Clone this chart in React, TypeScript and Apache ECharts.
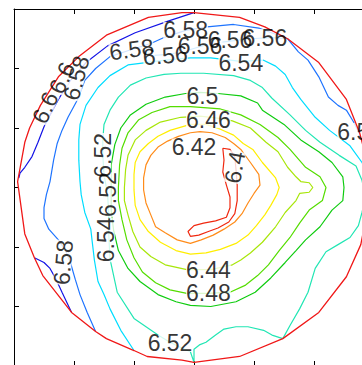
import { useEffect, useRef } from "react";
import * as echarts from "echarts";

// Wafer map contours, coordinates in mm (wafer centre = 0,0)
const waferEdge: number[][] = [[0,147],[38,143],[59,135],[78,125],[104,105],[127,74],[138,46],[144,23],[145,-2],[143,-27],[139,-48],[127,-75],[104,-105],[74,-127],[38,-142],[0,-147],[-10,-145],[-39,-142],[-50,-137],[-73,-127],[-82,-121],[-102,-105],[-126,-74],[-133,-59],[-141,-39],[-147,5],[-141,38],[-137,50],[-128,69],[-113,93],[-96,110],[-73,128],[-38,143],[-10,147],[0,147]];

const level640: number[][] = [[24,33],[25,23],[24,13],[27,2],[30,-8],[30,-17],[27,-25],[18,-28],[8,-30],[0,-32],[-5,-37],[-3,-41],[4,-40],[12,-37],[20,-34],[29,-29],[34,-22],[36,-11],[36,2],[35,15],[34,26],[30,32],[24,33]];

const level642: number[][] = [[-3,46],[5,47],[15,46],[26,42],[33,37],[39,32],[47,21],[54,11],[55,2],[50,-5],[45,-13],[40,-22],[34,-29],[25,-35],[16,-40],[6,-44],[-3,-47],[-14,-44],[-24,-38],[-32,-33],[-36,-23],[-40,-13],[-42,-2],[-42,8],[-40,19],[-36,27],[-30,34],[-22,39],[-13,43],[-3,46]];

const level644: number[][] = [[-3,53],[10,53],[22,49],[33,44],[41,37],[49,32],[57,21],[68,8],[71,0],[69,-6],[64,-15],[59,-23],[52,-32],[45,-40],[35,-47],[22,-52],[10,-55],[-3,-56],[-15,-53],[-28,-46],[-38,-37],[-45,-27],[-49,-15],[-50,-2],[-50,11],[-49,21],[-45,30],[-38,37],[-30,43],[-20,48],[-3,53]];

const level646: number[][] = [[5,60],[22,58],[32,56],[47,50],[60,38],[70,30],[78,17],[85,9],[89,5],[96,4],[99,0],[96,-4],[88,-5],[85,-11],[76,-21],[68,-33],[57,-46],[47,-55],[39,-61],[32,-65],[14,-69],[-6,-69],[-24,-65],[-36,-58],[-45,-50],[-51,-37],[-55,-23],[-58,-11],[-58,0],[-57,15],[-55,27],[-49,40],[-40,48],[-28,55],[-11,59],[5,60]];

const level648: number[][] = [[-3,68],[22,66],[39,61],[55,53],[70,42],[80,32],[93,17],[105,9],[110,0],[107,-11],[96,-19],[88,-30],[80,-42],[71,-53],[62,-65],[53,-74],[43,-82],[30,-88],[12,-89],[-6,-89],[-20,-86],[-32,-80],[-43,-71],[-50,-59],[-56,-44],[-60,-27],[-63,-11],[-63,0],[-62,19],[-60,33],[-55,46],[-46,57],[-35,63],[-20,68],[-3,68]];

const level650: number[][] = [[5,80],[20,79],[39,77],[53,71],[57,65],[75,53],[89,40],[104,30],[115,21],[124,9],[125,0],[124,-11],[115,-19],[105,-33],[93,-44],[85,-53],[76,-63],[64,-76],[51,-88],[35,-96],[14,-100],[-3,-99],[-15,-96],[-30,-90],[-45,-79],[-55,-68],[-63,-53],[-67,-36],[-69,-19],[-69,0],[-69,19],[-66,36],[-61,50],[-53,61],[-40,70],[-24,76],[-7,79],[5,80]];

const level652: number[][] = [[0,-147],[0,-136],[5,-132],[10,-130],[18,-124],[25,-119],[35,-117],[45,-117],[58,-120],[65,-124],[74,-127],[80,-116],[88,-102],[95,-88],[101,-68],[110,-54],[120,-48],[130,-42],[137,-32],[140,-21],[143,-8],[140,6],[135,18],[121,27],[105,38],[93,48],[80,61],[65,75],[57,84],[47,90],[33,94],[8,96],[-11,96],[-25,95],[-40,92],[-53,86],[-63,76],[-70,65],[-75,53],[-76,40],[-76,27],[-75,11],[-72,-6],[-71,-23],[-71,-40],[-70,-60],[-64,-88],[-50,-110],[-30,-124],[-20,-130],[-10,-135],[-3,-138],[0,-147]];

const level654: number[][] = [[-50,-137],[-61,-120],[-70,-102],[-75,-90],[-80,-79],[-83,-61],[-85,-44],[-86,-35],[-91,-21],[-94,-6],[-95,5],[-96,23],[-96,40],[-95,53],[-90,69],[-80,84],[-70,94],[-55,103],[-40,105],[-24,107],[-3,109],[14,109],[39,106],[58,107],[68,102],[76,95],[82,84],[89,74],[101,59],[113,48],[130,35],[140,21],[144,13]];

const level656: number[][] = [[78,125],[64,126],[47,125],[30,123],[14,121],[-3,116],[-20,112],[-33,111]];

const level658: number[][] = [[138,45],[133,55],[127,65],[120,69],[112,76],[104,93],[95,107],[87,114],[78,125],[54,134],[33,137],[11,135],[-7,132],[-25,126],[-36,121],[-52,116],[-70,110],[-82,100],[-91,90],[-97,74],[-105,59],[-110,48],[-114,37],[-117,23],[-120,5],[-123,-6],[-125,-17],[-125,-26],[-121,-35],[-113,-44],[-107,-53],[-103,-63],[-99,-77],[-95,-90],[-89,-105],[-82,-121]];

const level660a: number[][] = [[0,147],[-21,140],[-49,130],[-72,119],[-90,105],[-103,90],[-113,74],[-120,61],[-125,51],[-130,38],[-135,26],[-141,17],[-145,12],[-146,8]];
const level660b: number[][] = [[-133,-59],[-125,-63],[-120,-68],[-115,-77],[-110,-88],[-102,-105]];

const labelText = ["6.6","6.6","6.58","6.58","6.56","6.58","6.56","6.56","6.56","6.54","6.58","6.5","6.46","6.42","6.4","6.52","6.52","6.54","6.58","6.44","6.48","6.52"];
const labelPos: number[][] = [[-124,67],[-110,92],[-98,92],[-52,116],[-24,111],[-7,132],[5,119],[30,124],[59,126],[39,105],[138,47],[7,77],[12,57],[0,34],[34,17],[-76,27],[-72,-6],[-73,-44],[-109,-63],[12,-69],[12,-89],[-20,-131]];
const labelAngle = [65,65,75,8,5,0,0,0,0,0,0,0,0,0,80,90,90,90,85,0,0,0];

const contourLines = [
  { level: "6.40", pts: level640 },
  { level: "6.42", pts: level642 },
  { level: "6.44", pts: level644 },
  { level: "6.46", pts: level646 },
  { level: "6.48", pts: level648 },
  { level: "6.50", pts: level650 },
  { level: "6.52", pts: level652 },
  { level: "6.54", pts: level654 },
  { level: "6.56", pts: level656 },
  { level: "6.58", pts: level658 },
  { level: "6.60", pts: level660a },
  { level: "6.60", pts: level660b },
];

const levelColor: Record<string, string> = {
  "6.40": "#f0280f",
  "6.42": "#ff8c1a",
  "6.44": "#ffee00",
  "6.46": "#a8e60a",
  "6.48": "#55dd00",
  "6.50": "#10cc10",
  "6.52": "#22e6b4",
  "6.54": "#00ddff",
  "6.56": "#2aa5ff",
  "6.58": "#1e74ff",
  "6.60": "#1414e6",
};

const FONT = '"Liberation Sans", Arial, Helvetica, sans-serif';

export default function App() {
  const ref = useRef<HTMLDivElement>(null);
  useEffect(() => {
    if (!ref.current) return;
    const chart = echarts.init(ref.current, undefined, { renderer: "svg" });
    const axisCommon = {
      type: "value" as const,
      min: -150,
      max: 150,
      interval: 50,
      axisLine: { show: true, onZero: false, lineStyle: { color: "#000", width: 1 } },
      axisTick: { show: true, inside: true, length: 5, lineStyle: { color: "#000", width: 1 } },
      axisLabel: { show: false },
      splitLine: { show: false },
    };
    const series: any[] = contourLines.map((c) => ({
      type: "line",
      data: c.pts,
      showSymbol: false,
      symbol: "none",
      silent: true,
      z: 2,
      lineStyle: { color: levelColor[c.level], width: 1.2 },
    }));
    const labelItems = () =>
      labelPos.map((p, i) => ({
        value: p,
        name: labelText[i],
        label: { rotate: labelAngle[i] },
      }));
    const labelBase = {
      show: true,
      position: "inside",
      formatter: "{b}",
      fontSize: 23,
      fontFamily: FONT,
      lineHeight: 17,
      padding: 0,
    };
    series.push({
      type: "scatter",
      symbolSize: 1,
      silent: true,
      z: 4,
      itemStyle: { color: "rgba(0,0,0,0)" },
      data: labelItems(),
      label: { ...labelBase, color: "rgba(0,0,0,0)", backgroundColor: "#fff" },
    });
    series.push({
      type: "line",
      data: waferEdge,
      showSymbol: false,
      symbol: "none",
      silent: true,
      z: 5,
      lineStyle: { color: "#f01818", width: 1.3 },
    });
    series.push({
      type: "scatter",
      symbolSize: 1,
      silent: true,
      z: 6,
      itemStyle: { color: "rgba(0,0,0,0)" },
      data: labelItems(),
      label: { ...labelBase, color: "#000" },
    });
    chart.setOption({
      animation: false,
      backgroundColor: "#fff",
      grid: { left: 14, top: 9, width: 360, height: 357, containLabel: false, outerBoundsMode: "none" },
      xAxis: [
        { ...axisCommon, position: "bottom" },
        { ...axisCommon, position: "top" },
      ],
      yAxis: [
        { ...axisCommon, position: "left" },
        { ...axisCommon, position: "right" },
      ],
      series,
    });
    return () => chart.dispose();
  }, []);
  return (
    <div
      ref={ref}
      style={{ position: "absolute", left: 0, top: 0, width: 362, height: 365, background: "#fff" }}
    />
  );
}
